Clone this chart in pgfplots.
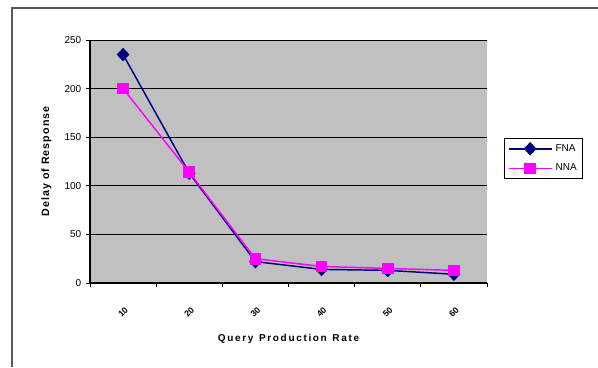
\documentclass[border=0pt]{standalone}
\usepackage{pgfplots}
\pgfplotsset{compat=1.18}
\usepackage{fontspec}
\setmainfont{Liberation Sans}
\definecolor{navyc}{HTML}{000080}
\definecolor{magc}{HTML}{FF00FF}
\definecolor{bgc}{HTML}{C0C0C0}
\begin{document}
\begin{tikzpicture}[x=0.75pt,y=0.75pt]
\path[use as bounding box] (0,0) rectangle (598,367);
\draw[gray!70!black, line width=0.9pt] (12,0) -- (12,359) -- (598,359);
\begin{axis}[
  at={(67.5pt,63pt)}, anchor=south west,
  scale only axis, width=297.75pt, height=182.25pt,
  xmin=0.5, xmax=6.5, ymin=0, ymax=250,
  axis background/.style={fill=bgc},
  xtick={1,...,6}, xticklabels={10,20,30,40,50,60},
  minor xtick={0.5,1.5,...,6.5},
  major x tick style={draw=none},
  minor x tick style={black, line width=0.6pt},
  ytick={0,50,...,250},
  ymajorgrids, grid style={black, line width=0.5pt},
  tick align=outside, major tick length=3pt, minor tick length=3pt,
  axis x line*=bottom, axis y line*=left,
  axis line style={black, line width=0.8pt},
  y axis line style={-}, x axis line style={-},
  ytick style={black, line width=0.6pt},
  /pgf/number format/assume math mode=true,
  tick label style={font=\fontsize{7.5}{9}\selectfont},
  xticklabel style={font=\bfseries\fontsize{6.5}{7}\selectfont, yshift=-19pt, rotate=45, anchor=center},
  xlabel={\bfseries Q\,u\,e\,r\,y\;\;P\,r\,o\,d\,u\,c\,t\,i\,o\,n\;\;R\,a\,t\,e},
  xlabel style={font=\fontsize{7.5}{9}\selectfont, yshift=-4pt},
  ylabel={\bfseries\addfontfeature{LetterSpace=10}Delay of Response},
  ylabel style={font=\fontsize{8}{9}\selectfont, yshift=3pt},
  clip=false,
  legend style={at={(1.043,0.597)}, anchor=north west, draw=black, line width=0.6pt,
    font=\fontsize{7.5}{8}\selectfont, inner sep=2.5pt, row sep=4pt},
  legend cell align=left,
  legend image code/.code={\draw[#1] (0cm,0cm) -- (1.15cm,0cm); \draw[#1, mark repeat=1] plot coordinates {(0.57cm,0cm)};},
]
\addplot[navyc, line width=1.1pt, mark=diamond*, mark size=4.3pt, mark options={solid, fill=navyc, xscale=1.25}]
  coordinates {(1,235) (2,113) (3,22) (4,14) (5,13) (6,9)};
\addlegendentry{FNA}
\addplot[magc, line width=1.1pt, mark=square*, mark size=3.8pt, mark options={solid, fill=magc}]
  coordinates {(1,200) (2,114) (3,25) (4,17) (5,15) (6,13)};
\addlegendentry{NNA}
\end{axis}
\end{tikzpicture}
\end{document}
